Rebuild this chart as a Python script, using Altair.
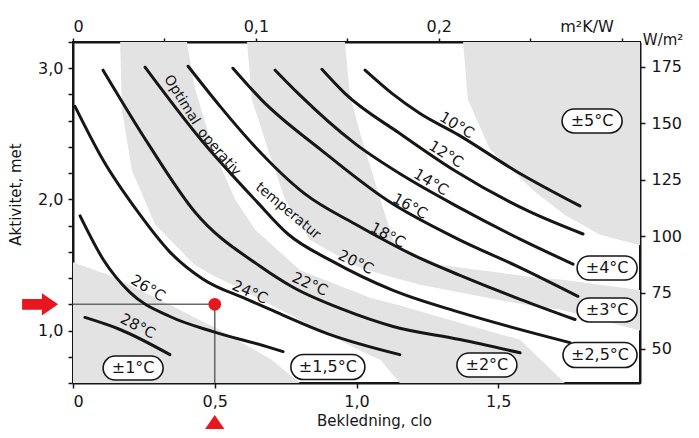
import altair as alt
import pandas as pd

FONT = "DejaVu Sans"
INK = "#161616"
RED = "#e8161e"
STIPPLE = "#e3e3e3"

# ---------------- axes ----------------
CLO_DOMAIN = [0.0, 2.0]
MET_DOMAIN = [0.6, 3.2]
CLO_TO_M2KW = 0.155
MET_TO_WM2 = 58.15
X_TICKS = [0, 0.5, 1.0, 1.5]
Y_TICKS = [0.6, 0.8, 1.0, 1.2, 1.4, 1.6, 1.8, 2.0, 2.2, 2.4, 2.6, 2.8, 3.0, 3.2]
TOP_TICKS = [0, 0.05, 0.1, 0.15, 0.2, 0.25, 0.3]
RIGHT_TICKS = [50, 75, 100, 125, 150, 175]
X_TITLE = "Bekledning, clo"
Y_TITLE = "Aktivitet, met"

# ---------------- comfort curves (clo, met) ----------------
C10_X = [1.030, 1.125, 1.224, 1.358, 1.566, 1.788]
C10_Y = [2.985, 2.808, 2.655, 2.494, 2.211, 1.950]
C12_X = [0.878, 0.959, 1.153, 1.347, 1.605, 1.799]
C12_Y = [2.992, 2.808, 2.502, 2.218, 1.912, 1.736]
C14_X = [0.713, 0.794, 0.995, 1.171, 1.358, 1.577, 1.764]
C14_Y = [2.985, 2.808, 2.425, 2.172, 1.943, 1.697, 1.506]
C16_X = [0.564, 0.667, 0.878, 1.111, 1.358, 1.577, 1.781]
C16_Y = [3.000, 2.755, 2.372, 1.989, 1.697, 1.480, 1.261]
C18_X = [0.406, 0.519, 0.642, 0.818, 0.995, 1.231, 1.365, 1.577, 1.771]
C18_Y = [3.015, 2.709, 2.402, 2.042, 1.812, 1.544, 1.421, 1.238, 1.084]
C20_X = [0.254, 0.448, 0.649, 0.758, 0.914, 1.129, 1.365, 1.753]
C20_Y = [3.008, 2.464, 1.981, 1.736, 1.529, 1.306, 1.138, 0.908]
C22_X = [0.106, 0.265, 0.430, 0.660, 0.776, 0.952, 1.129, 1.365, 1.577]
C22_Y = [2.985, 2.425, 1.904, 1.490, 1.330, 1.161, 1.031, 0.931, 0.830]
C24_X = [0.007, 0.106, 0.229, 0.342, 0.459, 0.614, 0.695, 0.907, 1.153]
C24_Y = [2.709, 2.300, 1.904, 1.598, 1.391, 1.238, 1.161, 0.969, 0.816]
C26_X = [0.025, 0.106, 0.201, 0.342, 0.494, 0.695, 0.741]
C26_Y = [1.874, 1.544, 1.291, 1.107, 0.992, 0.870, 0.839]
C28_X = [0.042, 0.166, 0.342]
C28_Y = [1.100, 1.008, 0.816]

CURVES = {10: (C10_X, C10_Y), 12: (C12_X, C12_Y), 14: (C14_X, C14_Y), 16: (C16_X, C16_Y),
          18: (C18_X, C18_Y), 20: (C20_X, C20_Y), 22: (C22_X, C22_Y), 24: (C24_X, C24_Y),
          26: (C26_X, C26_Y), 28: (C28_X, C28_Y)}

# curve labels
TEMP_LABELS = ["10°C", "12°C", "14°C", "16°C", "18°C", "20°C", "22°C", "24°C", "26°C", "28°C"]
TEMP_LX = [1.354, 1.316, 1.263, 1.189, 1.111, 0.998, 0.836, 0.624, 0.265, 0.229]
TEMP_LY = [2.567, 2.346, 2.132, 1.949, 1.728, 1.522, 1.355, 1.294, 1.324, 1.034]
TEMP_ANGLE = [31, 32, 31, 29, 28, 26, 24, 24, 31, 27]

# "Optimal operativ temperatur"
OPT_WORDS = ["Optimal", "operativ", "temperatur"]
OPT_X = [0.384, 0.515, 0.758]
OPT_Y = [2.758, 2.361, 1.911]
OPT_ANGLE = [58, 49, 40]

# ---------------- tolerance zones (stippled) ----------------
B1_X = [0.0, 0.13, 0.31, 0.52, 0.70, 0.80]
B1_TOP = [1.52, 1.42, 1.23, 1.00, 0.78, 0.60]
B1_BOT = [0.6, 0.6, 0.6, 0.6, 0.6, 0.6]

B2_X = [0.166, 0.173, 0.208, 0.289, 0.402, 0.430, 0.494, 0.572, 0.642, 0.801, 0.871,
        1.048, 1.083, 1.153, 1.330, 1.577, 1.735]
B2_TOP = [3.2, 3.2, 3.2, 3.2, 3.2, 2.85, 2.38, 2.0, 1.77, 1.46, 1.40, 1.25, 1.23, 1.19,
          1.08, 0.93, 0.6]
B2_BOT = [3.2, 2.68, 2.22, 1.81, 1.56, 1.50, 1.42, 1.34, 1.26, 1.08, 1.00, 0.81, 0.78,
          0.6, 0.6, 0.6, 0.6]

B3_X = [0.614, 0.631, 0.688, 0.748, 0.836, 0.959, 0.977, 1.012, 1.030, 1.090, 1.136,
        1.224, 1.295, 1.506, 1.647, 1.718, 2.0]
B3_TOP = [3.2, 3.2, 3.2, 3.2, 3.2, 3.2, 2.80, 2.51, 2.38, 1.96, 1.65, 1.57, 1.50, 1.44,
          1.40, 1.39, 1.31]
B3_BOT = [3.2, 2.76, 2.38, 2.0, 1.69, 1.54, 1.52, 1.48, 1.47, 1.43, 1.40, 1.35, 1.32,
          1.23, 1.18, 1.16, 1.0]

B5_X = [1.376, 1.393, 1.471, 1.623, 1.735, 1.859, 2.0]
B5_TOP = [3.2, 3.2, 3.2, 3.2, 3.2, 3.2, 3.2]
B5_BOT = [3.2, 2.76, 2.38, 2.07, 1.88, 1.73, 1.65]

# tolerance labels
TOL_LABELS = ["±1°C", "±1,5°C", "±2°C", "±2,5°C", "±3°C", "±4°C", "±5°C"]
TOL_X = [0.212, 0.899, 1.460, 1.859, 1.884, 1.884, 1.831]
TOL_Y = [0.714, 0.722, 0.737, 0.813, 1.157, 1.477, 2.598]
TOL_KIND = ["short", "long", "short", "long", "short", "short", "short"]

# example point
REF_X = 0.5
REF_Y = 1.2

# red arrows (outside the plot)
ARROW_X = [-0.116, 0.5]
ARROW_Y = [1.2, 0.219]
ARROW_DIR = ["right", "up"]

# unit annotations
UNIT_TEXT = ["m²K/W", "W/m²"]
UNIT_X = [1.813, 2.01]
UNIT_Y = [3.314, 3.215]
UNIT_ALIGN = ["center", "left"]

# ---------------- shapes ----------------
PILL_SHORT = "M -0.6 -0.4 L 0.6 -0.4 A 0.4 0.4 0 0 1 0.6 0.4 L -0.6 0.4 A 0.4 0.4 0 0 1 -0.6 -0.4 Z"
PILL_LONG = "M -0.662 -0.338 L 0.662 -0.338 A 0.338 0.338 0 0 1 0.662 0.338 L -0.662 0.338 A 0.338 0.338 0 0 1 -0.662 -0.338 Z"
ARROW_RIGHT = "M -1 -0.3 L 0.1 -0.3 L 0.1 -0.62 L 1 0 L 0.1 0.62 L 0.1 0.3 L -1 0.3 Z"
ARROW_UP = "M -0.3 1 L -0.3 -0.1 L -0.62 -0.1 L 0 -1 L 0.62 -0.1 L 0.3 -0.1 L 0.3 1 Z"

# ---------------- scales / axes ----------------
xscale = alt.Scale(domain=CLO_DOMAIN, nice=False, zero=False)
yscale = alt.Scale(domain=MET_DOMAIN, nice=False, zero=False)

xaxis = alt.Axis(
    orient="bottom", values=X_TICKS, title=X_TITLE, grid=False, labelOverlap=False,
    labelExpr="datum.value == 0 ? '0' : replace(format(datum.value, '.1f'), '.', ',')",
    tickSize=5, labelPadding=5, domainWidth=2, domainColor=INK, tickColor=INK, tickWidth=1.5,
    labelFontSize=16, labelColor=INK, titleFontSize=15, titleFontWeight="normal", titleColor=INK,
    titleX=301, titleY=37, titleAlign="center", titleBaseline="middle",
)
yaxis = alt.Axis(
    orient="left", values=Y_TICKS, title=Y_TITLE, grid=False, labelOverlap=False,
    labelExpr="(abs(datum.value-1)<0.001 || abs(datum.value-2)<0.001 || abs(datum.value-3)<0.001) ? replace(format(datum.value, '.1f'), '.', ',') : ''",
    tickSize=5, labelPadding=5, domainWidth=2, domainColor=INK, tickColor=INK, tickWidth=1.5,
    labelFontSize=16, labelColor=INK, titleFontSize=15, titleFontWeight="normal", titleColor=INK,
    titleX=-58, titleY=152, titleAlign="center", titleBaseline="middle", titleAngle=270,
)


def X(field):
    return alt.X(f"{field}:Q", scale=xscale, axis=xaxis)


def Y(field):
    return alt.Y(f"{field}:Q", scale=yscale, axis=yaxis, stack=None)


# ---------------- data frames ----------------
def band_chart(xs, tops, bots):
    df = pd.DataFrame({"x": xs, "top": tops, "bot": bots})
    return alt.Chart(df).mark_area(color=STIPPLE, fill=STIPPLE, opacity=1,
                                   interpolate="linear").encode(
        x=X("x"), y=Y("top"), y2=alt.Y2("bot"))


curve_rows = []
for t, (xs, ys) in CURVES.items():
    for i, (x, y) in enumerate(zip(xs, ys)):
        curve_rows.append({"temp": t, "i": i, "x": x, "y": y})
curves_df = pd.DataFrame(curve_rows)

temp_df = pd.DataFrame({"label": TEMP_LABELS, "x": TEMP_LX, "y": TEMP_LY, "a": TEMP_ANGLE})
opt_df = pd.DataFrame({"label": OPT_WORDS, "x": OPT_X, "y": OPT_Y, "a": OPT_ANGLE})
tol_df = pd.DataFrame({"label": TOL_LABELS, "x": TOL_X, "y": TOL_Y, "kind": TOL_KIND})
hline_df = pd.DataFrame({"x": [CLO_DOMAIN[0]], "x2": [REF_X], "y": [REF_Y]})
vline_df = pd.DataFrame({"x": [REF_X], "y": [MET_DOMAIN[0]], "y2": [REF_Y]})
dot_df = pd.DataFrame({"x": [REF_X], "y": [REF_Y]})
arrow_df = pd.DataFrame({"x": ARROW_X, "y": ARROW_Y, "dir": ARROW_DIR})
unit_df = pd.DataFrame({"label": UNIT_TEXT, "x": UNIT_X, "y": UNIT_Y, "align": UNIT_ALIGN})

# ---------------- layers ----------------
band1 = band_chart(B1_X, B1_TOP, B1_BOT)
band2 = band_chart(B2_X, B2_TOP, B2_BOT)
band3 = band_chart(B3_X, B3_TOP, B3_BOT)
band5 = band_chart(B5_X, B5_TOP, B5_BOT)

hline = alt.Chart(hline_df).mark_rule(color="#6a6a6a", strokeWidth=1.6).encode(
    x=X("x"), x2="x2", y=Y("y"))
vline = alt.Chart(vline_df).mark_rule(color="#6a6a6a", strokeWidth=1.6).encode(
    x=X("x"), y=Y("y"), y2="y2")

curves = alt.Chart(curves_df).mark_line(color=INK, strokeWidth=3, interpolate="monotone",
                                        strokeCap="round").encode(
    x=X("x"), y=Y("y"), detail="temp:N", order="i:Q")

temp_text = alt.Chart(temp_df).mark_text(font=FONT, fontSize=15, color=INK, align="center",
                                         baseline="middle").encode(
    x=X("x"), y=Y("y"), text="label:N", angle=alt.Angle("a:Q", scale=None))

opt_text = alt.Chart(opt_df).mark_text(font=FONT, fontSize=14, color=INK, align="center",
                                       baseline="middle").encode(
    x=X("x"), y=Y("y"), text="label:N", angle=alt.Angle("a:Q", scale=None))

pill_short = alt.Chart(tol_df).transform_filter("datum.kind == 'short'").mark_point(
    shape=PILL_SHORT, size=3600, filled=True, fill="white", stroke=INK, strokeWidth=1.6,
    opacity=1, fillOpacity=1).encode(x=X("x"), y=Y("y"))
pill_long = alt.Chart(tol_df).transform_filter("datum.kind == 'long'").mark_point(
    shape=PILL_LONG, size=5476, filled=True, fill="white", stroke=INK, strokeWidth=1.6,
    opacity=1, fillOpacity=1).encode(x=X("x"), y=Y("y"))
tol_text = alt.Chart(tol_df).mark_text(font=FONT, fontSize=16, color=INK, align="center",
                                       baseline="middle").encode(
    x=X("x"), y=Y("y"), text="label:N")

dot = alt.Chart(dot_df).mark_circle(color=RED, size=160, opacity=1).encode(x=X("x"), y=Y("y"))

arrow_r = alt.Chart(arrow_df).transform_filter("datum.dir == 'right'").mark_point(
    shape=ARROW_RIGHT, size=1296, filled=True, color=RED, opacity=1).encode(x=X("x"), y=Y("y"))
arrow_u = alt.Chart(arrow_df).transform_filter("datum.dir == 'up'").mark_point(
    shape=ARROW_UP, size=1296, filled=True, color=RED, opacity=1).encode(x=X("x"), y=Y("y"))

unit_c = alt.Chart(unit_df).transform_filter("datum.align == 'center'").mark_text(
    font=FONT, fontSize=16, color=INK, align="center", baseline="middle").encode(
    x=X("x"), y=Y("y"), text="label:N")
unit_l = alt.Chart(unit_df).transform_filter("datum.align == 'left'").mark_text(
    font=FONT, fontSize=15, color=INK, align="left", baseline="middle").encode(
    x=X("x"), y=Y("y"), text="label:N")

main = alt.layer(band1, band2, band3, band5, hline, vline, curves, temp_text, opt_text,
                 pill_short, pill_long, tol_text, dot, arrow_r, arrow_u, unit_c, unit_l)

# secondary axes: m2K/W on top, W/m2 on right
aux_df = pd.DataFrame({"mk": [CLO_DOMAIN[0] * CLO_TO_M2KW, CLO_DOMAIN[1] * CLO_TO_M2KW],
                       "wm": [MET_DOMAIN[0] * MET_TO_WM2, MET_DOMAIN[1] * MET_TO_WM2]})
aux = alt.Chart(aux_df).mark_point(opacity=0).encode(
    x=alt.X("mk:Q", scale=alt.Scale(domain=[CLO_DOMAIN[0] * CLO_TO_M2KW, CLO_DOMAIN[1] * CLO_TO_M2KW],
                                    nice=False, zero=False),
            axis=alt.Axis(orient="top", values=TOP_TICKS, title=None, grid=False, labelOverlap=False,
                          labelExpr="datum.value == 0 ? '0' : (abs(datum.value-0.1)<1e-6 || abs(datum.value-0.2)<1e-6) ? replace(format(datum.value, '.1f'), '.', ',') : ''",
                          tickSize=4, labelPadding=4, domainWidth=2, domainColor=INK, tickColor=INK,
                          tickWidth=1.5, labelFontSize=16, labelColor=INK)),
    y=alt.Y("wm:Q", scale=alt.Scale(domain=[MET_DOMAIN[0] * MET_TO_WM2, MET_DOMAIN[1] * MET_TO_WM2],
                                    nice=False, zero=False),
            axis=alt.Axis(orient="right", values=RIGHT_TICKS, title=None, grid=False, labelOverlap=False,
                          tickSize=5, labelPadding=6, domainWidth=2, domainColor=INK, tickColor=INK,
                          tickWidth=1.5, labelFontSize=16, labelColor=INK)),
)

chart = alt.layer(main, aux).resolve_scale(x="independent", y="independent").properties(
    width=567, height=341,
    padding={"left": 65, "top": 34, "right": 48, "bottom": 46},
    autosize=alt.AutoSizeParams(type="none"),
).configure_view(stroke=INK, strokeWidth=2).configure_axis(
    labelFont=FONT, titleFont=FONT).configure_text(font=FONT)

chart.save("out.html", embed_options={"renderer": "svg", "actions": False})
